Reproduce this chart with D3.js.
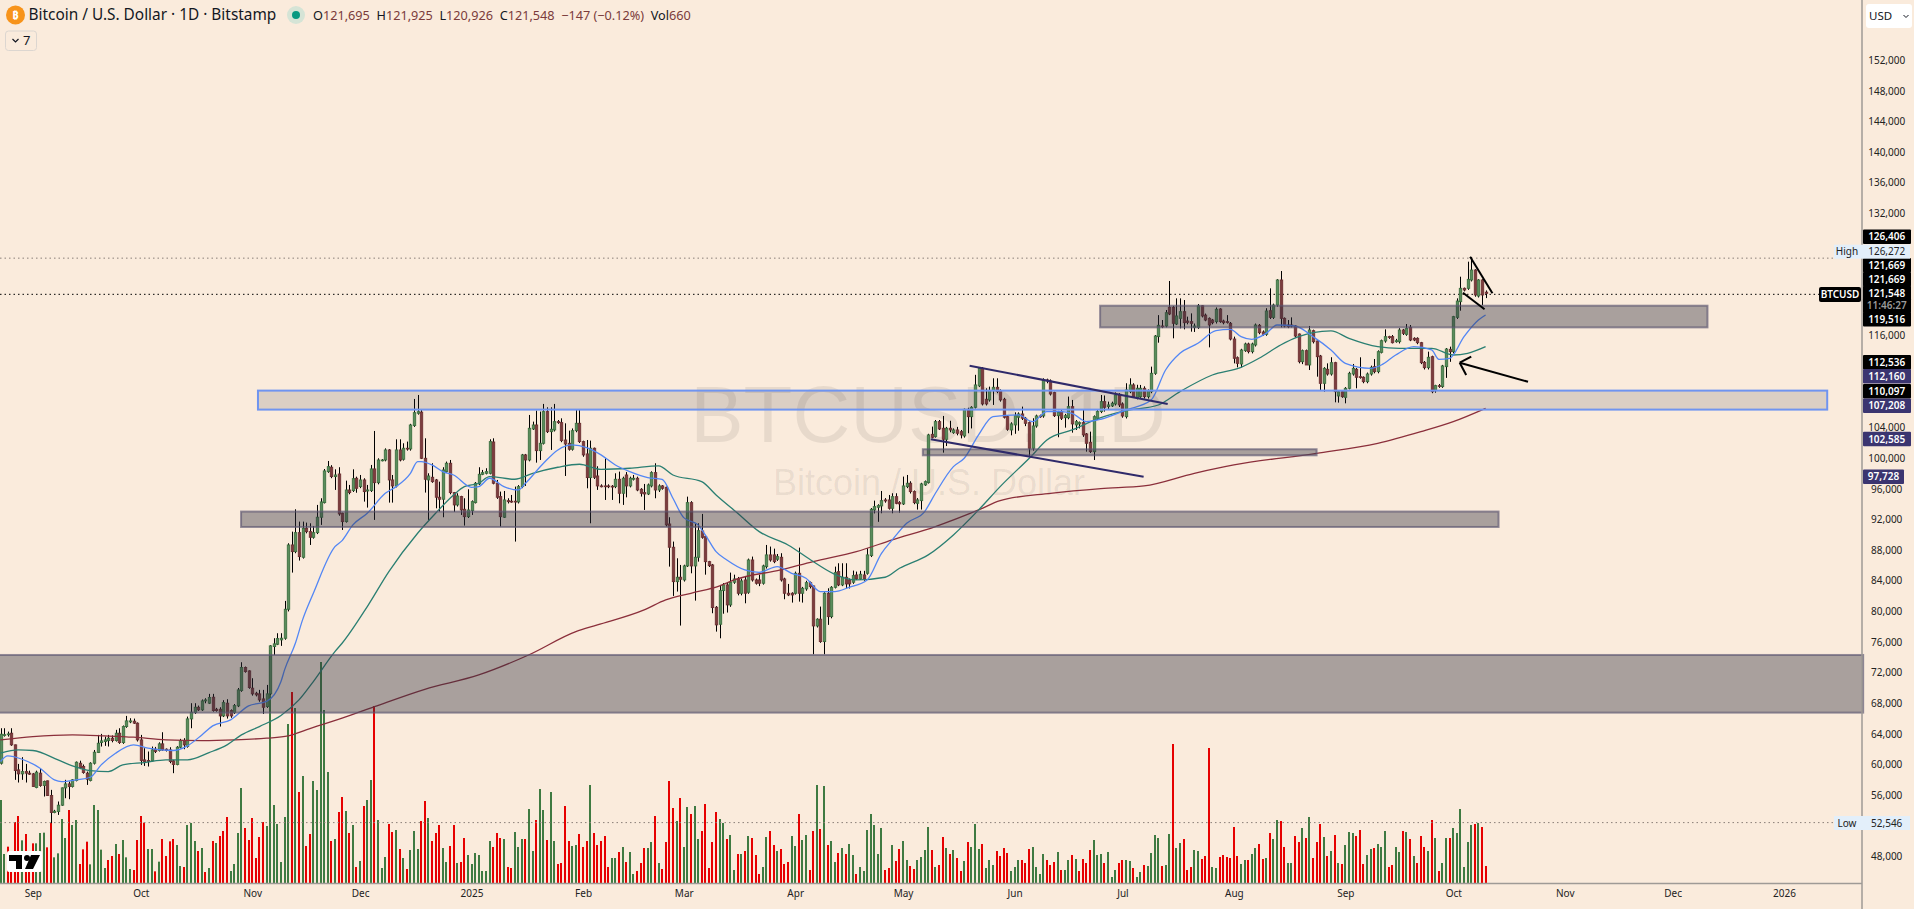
<!DOCTYPE html>
<html>
<head>
<meta charset="utf-8">
<script src="https://cdn.jsdelivr.net/npm/d3@7"></script>
<style>
  html, body { margin: 0; padding: 0; background: #faebdc; overflow: hidden; }
  text { font-family: "Noto Sans", sans-serif; }
</style>
</head>
<body>
<svg id="chart" width="1914" height="909"></svg>
<script>
// daily bars, first one is 23 Aug 2024, all prices in thousands of USD
const firstDay = "2024-08-23"
const lastDay = "2025-10-10"

const opens = [
  60.17,63.85,64.0,64.09,62.57,59.3,58.78,59.08,58.87,58.78,
  57.0,58.87,57.26,57.87,55.95,53.73,53.86,54.69,56.95,57.47,
  57.13,57.91,60.17,59.74,58.87,57.91,60.17,61.57,62.87,63.0,
  63.13,63.44,63.13,64.09,62.87,64.96,65.57,65.66,65.4,63.22,
  60.61,60.52,60.48,62.0,61.83,62.7,62.0,61.91,60.48,60.0,
  62.26,63.09,62.35,65.96,66.79,67.48,67.14,68.31,68.01,68.79,
  67.22,67.22,66.35,68.01,67.05,66.79,67.66,69.66,72.67,72.23,
  69.97,69.31,69.23,68.57,67.57,69.23,75.41,75.71,76.28,76.49,
  80.28,88.68,87.81,90.29,87.07,90.86,90.42,89.68,90.29,92.3,
  94.21,98.26,98.83,97.61,97.95,92.82,91.73,95.86,95.78,97.39,
  96.3,97.17,95.73,95.78,98.61,96.82,99.7,99.78,101.09,97.17,
  96.39,101.09,99.87,101.31,101.22,104.27,105.88,106.03,100.0,97.17,
  97.52,97.17,94.91,94.65,98.26,99.35,95.52,93.91,95.0,93.34,
  92.38,93.17,94.21,96.65,97.91,98.04,98.04,102.13,96.74,95.0,
  92.3,94.47,94.39,94.39,94.3,96.3,100.44,99.78,103.83,104.35,
  101.0,101.96,106.1,103.48,103.7,104.79,104.66,102.39,101.96,101.18,
  103.61,104.57,102.18,100.57,97.48,101.31,97.69,96.39,96.39,96.39,
  96.35,96.3,97.26,95.43,97.82,96.39,97.26,97.39,95.95,95.52,
  95.34,96.39,98.13,95.86,96.39,96.21,91.42,88.38,83.89,84.46,
  84.11,85.94,94.21,85.94,87.07,90.51,89.77,86.5,86.07,80.54,
  78.32,82.72,83.46,80.85,83.81,84.24,82.37,84.11,82.5,86.72,
  84.11,84.11,83.68,85.85,87.38,87.38,86.81,87.07,84.24,82.37,
  82.37,82.37,84.98,82.37,82.94,83.76,83.33,78.1,78.98,76.06,
  82.37,79.32,83.15,85.2,83.46,84.46,84.11,83.81,84.76,84.24,
  84.76,84.98,87.29,93.25,93.6,93.78,94.56,94.56,93.47,94.99,
  94.21,94.04,96.3,96.74,95.65,94.12,94.47,96.52,96.82,103.13,
  102.83,104.79,103.92,102.48,103.92,103.35,103.7,103.48,102.92,106.4,
  105.44,106.66,109.45,111.76,107.71,107.62,108.84,109.27,108.84,107.71,
  105.44,103.7,104.36,105.36,105.79,105.23,104.66,101.31,104.22,105.53,
  105.53,110.23,110.1,108.58,105.57,106.1,105.31,105.31,106.75,104.36,
  104.49,104.66,103.18,102.09,100.87,105.23,106.1,107.4,106.75,106.84,
  107.1,108.27,107.1,105.44,108.71,109.58,107.84,108.05,109.14,108.05,
  108.7,111.1,115.89,117.28,117.28,119.72,119.72,117.54,118.28,119.15,
  117.93,117.85,117.1,117.1,119.93,118.7,118.28,118.06,117.85,119.5,
  117.93,117.85,117.63,115.58,113.14,112.32,114.06,114.93,113.93,114.8,
  117.37,116.5,116.19,119.28,118.41,120.02,123.29,118.28,117.41,117.41,
  117.28,116.23,112.62,114.06,112.19,116.67,115.32,113.36,109.79,111.62,
  111.01,112.49,108.14,108.7,107.96,109.14,111.01,111.62,110.66,110.58,
  110.01,111.01,111.97,111.32,113.84,115.32,115.89,115.89,115.23,115.23,
  116.76,116.19,117.1,115.67,115.67,115.1,112.53,111.84,113.27,108.83,
  109.49,109.36,111.97,114.23,113.93,118.41,120.46,122.2,122.2,123.29,
  124.59,121.2,123.29,121.695
]
const highs = [
  64.74,64.74,64.3,64.74,62.6,60.08,60.96,60.08,59.2,58.9,
  59.2,59.5,57.9,57.9,56.69,54.08,55.17,57.0,58.0,57.78,
  58.1,60.4,60.5,60.0,59.08,60.3,61.9,63.87,64.0,63.65,
  63.87,63.8,64.53,64.74,65.1,66.35,66.05,66.0,65.5,63.87,
  62.13,61.7,62.35,62.3,62.9,64.22,62.1,62.26,60.6,62.4,
  63.35,63.44,66.26,68.01,68.01,67.7,68.5,68.66,69.23,69.23,
  67.4,67.48,68.4,68.53,67.2,67.9,70.0,73.36,72.8,72.3,
  71.27,69.5,69.75,69.75,70.4,75.6,76.5,77.15,77.15,81.37,
  88.9,90.42,93.34,91.73,91.73,91.6,91.51,91.16,93.91,94.78,
  98.6,99.65,99.1,98.56,98.83,92.9,97.08,96.52,98.56,97.6,
  97.82,97.39,96.52,99.13,103.57,100.0,99.9,101.3,101.2,97.82,
  102.48,102.48,101.96,102.18,104.5,107.75,108.27,106.3,102.61,98.04,
  99.35,97.3,96.95,98.83,99.57,99.78,95.6,95.43,95.1,94.78,
  95.95,94.5,96.9,98.83,98.48,98.7,102.48,102.61,97.17,95.65,
  95.73,94.78,95.21,96.3,96.5,100.57,100.57,105.66,104.79,106.23,
  106.1,107.1,106.66,106.66,107.1,105.0,105.22,104.57,103.61,103.9,
  106.31,106.31,102.3,102.39,102.31,101.4,98.96,96.6,100.0,96.6,
  96.5,98.04,98.26,97.6,98.2,97.6,97.82,97.6,96.1,96.65,
  96.7,98.3,99.35,96.6,96.5,96.3,92.3,89.12,86.94,86.07,
  86.1,94.99,94.4,91.51,91.51,92.73,89.9,86.6,86.2,80.7,
  83.46,83.7,83.7,85.07,84.8,84.5,84.3,84.63,86.9,87.16,
  84.3,84.8,86.1,88.68,88.47,88.2,87.5,87.6,84.4,83.59,
  82.5,85.2,88.33,83.2,84.0,83.9,83.4,79.1,80.63,82.5,
  83.02,83.3,85.85,86.29,86.29,86.29,84.3,85.33,85.2,85.3,
  85.3,88.25,93.5,94.47,94.0,95.73,94.8,95.21,95.43,95.43,
  94.4,97.61,97.82,97.0,95.8,94.8,96.8,97.1,103.2,104.14,
  105.0,105.0,105.53,104.1,104.9,103.9,104.1,103.7,106.5,106.6,
  106.8,110.9,111.9,111.9,109.14,109.36,110.45,110.45,109.0,107.9,
  105.6,104.7,106.0,106.0,106.75,105.4,104.8,105.23,105.7,105.7,
  110.45,110.4,110.3,108.7,106.2,106.3,105.8,108.06,107.62,105.0,
  104.8,106.4,103.3,103.48,105.6,106.3,108.27,108.2,107.4,107.4,
  108.6,108.5,107.3,109.8,110.45,109.8,109.6,109.58,109.4,109.0,
  111.97,116.1,118.7,118.06,119.37,123.16,119.9,120.89,120.89,120.67,
  118.5,118.93,117.6,120.15,120.02,118.9,118.4,118.2,119.7,119.6,
  118.1,118.7,117.8,115.89,113.3,114.3,115.1,115.1,115.1,117.6,
  117.54,116.7,119.6,122.2,120.2,123.4,124.46,118.4,118.06,118.41,
  117.4,116.3,114.2,114.2,117.28,116.8,115.4,113.5,111.9,112.4,
  113.2,112.6,108.9,108.9,109.3,111.3,112.32,111.8,113.19,110.7,
  111.2,112.1,112.97,114.1,115.5,116.84,116.0,116.1,115.6,117.0,
  116.9,117.54,117.41,115.8,115.8,115.2,112.7,113.93,113.4,109.6,
  109.7,112.2,114.4,114.58,118.6,120.89,123.72,122.3,125.68,126.27,
  124.7,123.4,123.4,121.925
]
const lows = [
  60.0,63.65,63.65,62.44,58.0,57.65,58.0,57.65,58.65,57.1,
  56.9,57.1,55.82,55.9,52.34,53.64,53.42,54.6,55.6,55.47,
  57.0,57.8,59.4,58.8,57.34,57.8,60.0,61.5,62.35,62.44,
  62.35,62.9,63.0,62.7,62.7,64.8,65.4,65.3,63.0,59.95,
  59.82,59.74,60.4,61.5,61.7,61.8,61.7,60.17,58.87,59.9,
  62.1,62.0,62.2,64.74,66.6,67.0,67.0,68.0,67.9,66.9,
  66.9,64.96,66.2,66.0,66.1,66.6,67.5,69.5,72.0,69.9,
  69.0,68.9,68.2,66.61,67.4,69.1,74.3,75.6,75.5,76.3,
  80.0,85.07,87.6,86.64,86.9,90.2,88.68,89.5,90.1,91.3,
  94.1,98.1,97.4,95.87,92.5,90.64,91.6,95.3,95.6,95.5,
  96.1,94.34,93.56,95.6,91.95,96.6,99.6,99.6,94.21,94.21,
  96.2,99.6,99.7,101.0,101.0,104.1,105.7,99.9,95.52,91.95,
  96.8,93.47,93.04,92.3,98.1,95.3,93.0,93.7,92.6,91.21,
  92.2,92.6,94.1,96.5,97.8,97.9,97.9,96.6,94.7,91.08,
  92.2,94.1,94.2,89.12,94.1,96.1,96.39,99.6,103.7,99.43,
  99.78,101.8,103.3,101.09,103.5,104.5,102.1,97.69,101.0,101.0,
  103.4,102.0,100.2,96.08,91.51,97.3,95.87,96.2,94.56,96.1,
  94.56,96.1,94.12,93.91,94.9,96.2,97.1,95.7,95.0,93.25,
  95.2,96.2,94.78,95.6,95.9,91.1,85.85,82.02,82.59,78.15,
  83.9,85.8,84.98,81.41,86.5,89.5,84.8,85.8,79.76,77.36,
  76.49,79.7,79.85,80.6,83.6,82.1,82.1,81.06,82.3,83.9,
  83.5,83.3,83.5,85.6,86.5,86.3,86.6,83.9,81.59,82.0,
  81.15,82.2,81.28,81.15,82.7,83.0,74.4,77.9,75.9,74.4,
  78.24,79.1,83.0,83.3,83.3,83.02,83.0,83.6,84.1,84.1,
  84.0,84.8,87.1,92.8,91.7,92.82,94.2,93.3,92.82,94.0,
  92.9,93.9,96.1,95.4,94.0,93.3,93.3,96.4,96.7,102.6,
  102.7,103.7,100.74,101.6,103.4,103.2,103.0,102.6,102.7,103.27,
  103.9,106.5,109.3,106.9,106.9,107.4,106.97,108.5,107.4,105.2,
  103.6,103.0,103.2,103.6,105.0,104.2,100.22,101.0,104.0,105.3,
  105.3,109.8,108.2,105.4,102.75,105.0,104.0,105.1,103.35,103.7,
  103.9,102.8,100.87,100.7,99.78,105.0,105.9,106.1,106.4,106.7,
  106.9,106.7,105.3,105.2,108.5,107.9,107.7,107.9,107.8,107.8,
  108.5,110.9,115.1,117.0,117.1,118.7,115.67,117.4,116.97,116.84,
  117.5,116.54,116.5,116.9,118.4,117.9,114.49,117.5,117.6,117.7,
  117.5,117.6,115.4,112.4,111.88,111.88,113.9,113.7,113.7,114.6,
  116.2,116.0,116.0,118.2,118.2,119.8,117.1,117.1,117.0,117.1,
  115.8,112.4,112.3,112.19,111.53,115.0,110.66,108.83,108.7,110.8,
  110.8,107.31,107.27,107.9,107.18,109.0,110.8,109.14,110.4,109.8,
  109.8,110.8,111.1,111.1,113.7,115.1,115.6,115.0,115.1,115.0,
  116.1,116.0,115.3,115.3,114.9,112.3,111.6,111.6,108.5,108.57,
  109.2,109.2,110.5,112.6,113.7,118.2,119.28,121.8,122.0,123.1,
  121.1,121.0,120.0,120.926
]
const closes = [
  63.96,63.9,64.0,62.57,59.21,58.78,59.08,58.87,58.74,57.13,
  59.0,57.26,57.78,55.95,53.73,53.9,54.69,56.95,57.47,57.13,
  58.0,60.3,59.6,58.95,58.08,60.17,61.61,62.78,63.09,63.22,
  63.44,63.13,64.09,62.87,64.96,65.7,65.7,65.4,63.22,60.52,
  60.39,60.39,61.91,61.7,62.7,61.91,61.83,60.39,60.0,62.26,
  63.09,62.57,65.96,66.83,67.48,67.14,68.31,68.44,68.75,67.05,
  67.05,66.35,68.09,66.35,66.35,67.7,69.75,72.67,72.14,70.05,
  69.23,69.1,68.44,67.48,69.23,75.5,75.76,76.45,76.5,80.28,
  88.68,87.81,90.29,87.16,90.86,90.42,89.68,90.29,92.3,94.3,
  98.35,98.91,97.61,97.82,92.73,91.73,95.86,95.52,97.34,96.08,
  97.17,95.65,95.86,98.61,96.82,99.78,99.78,101.09,97.17,96.39,
  101.09,99.78,101.31,101.22,104.35,105.96,106.09,100.0,97.26,97.69,
  96.95,94.91,94.65,98.48,99.35,95.52,93.91,95.08,93.25,92.38,
  93.25,94.34,96.74,97.91,98.13,98.26,102.18,96.74,94.91,92.38,
  94.56,94.34,94.3,94.3,96.3,100.44,99.78,103.92,104.35,101.0,
  101.96,106.1,103.48,103.79,104.79,104.66,102.31,101.87,101.18,103.61,
  104.57,102.18,100.44,97.48,101.31,97.52,96.39,96.3,96.3,96.3,
  96.26,97.26,95.43,97.39,96.39,97.39,97.39,95.86,95.43,95.34,
  96.52,98.13,95.86,96.39,96.08,91.3,88.38,83.89,84.46,84.2,
  85.94,94.21,85.94,87.07,90.55,89.68,86.5,85.98,80.5,78.24,
  82.72,83.46,80.85,83.81,84.24,82.37,83.98,82.37,86.72,84.11,
  83.68,83.68,85.94,87.38,86.72,86.5,87.16,84.11,82.37,82.15,
  82.15,84.98,82.37,83.02,83.76,83.24,78.1,78.98,76.06,82.37,
  79.32,83.15,85.07,83.46,84.46,83.59,83.59,84.68,84.24,84.85,
  84.24,87.38,93.34,93.69,93.82,94.47,94.43,93.47,94.99,94.12,
  94.04,96.39,96.74,95.65,94.21,94.56,96.65,96.95,103.05,102.74,
  104.79,103.83,102.48,103.92,103.7,103.7,103.27,103.05,106.4,105.44,
  106.66,109.58,111.76,107.1,107.1,108.84,109.27,108.71,107.62,105.36,
  103.79,104.49,105.57,105.79,105.23,104.57,101.31,104.22,105.53,105.44,
  110.23,110.1,108.4,105.57,106.01,105.23,105.57,106.75,104.49,104.79,
  104.66,103.05,101.96,100.87,105.44,106.1,107.4,106.66,106.97,107.19,
  108.27,106.97,105.53,108.93,109.58,108.06,109.14,109.14,108.05,108.83,
  111.1,115.97,117.37,117.19,119.02,118.85,117.63,118.59,119.15,117.71,
  117.76,117.63,117.28,119.93,118.59,118.06,117.41,117.71,119.46,117.85,
  117.71,117.76,115.58,113.06,112.4,114.14,114.93,113.93,114.93,117.41,
  116.41,116.19,119.24,118.41,120.02,123.29,118.28,117.28,117.19,117.28,
  115.97,112.62,114.06,112.19,116.76,115.23,113.27,109.79,111.75,111.01,
  112.49,108.7,108.7,108.05,109.14,111.1,111.75,110.58,110.58,110.01,
  111.01,111.88,111.32,113.93,115.36,115.89,115.8,115.1,115.36,116.76,
  116.32,116.97,115.45,115.45,115.1,112.49,111.84,113.19,108.7,109.49,
  109.45,112.06,114.27,113.93,118.5,120.54,122.2,121.98,123.37,124.59,
  121.33,123.29,121.33,121.548
]

// volume bars, unit is roughly 13 BTC
const volumes = [
  249,87,109,50,183,201,128,147,80,119,
  119,150,151,107,181,77,89,192,135,219,
  174,189,57,101,124,56,234,219,100,45,
  69,81,117,87,129,77,42,39,129,201,
  181,102,102,35,64,132,81,125,132,114,
  51,48,174,180,126,96,105,33,45,126,
  120,141,156,198,36,57,150,285,165,129,
  195,75,138,183,171,699,234,177,63,198,
  477,573,525,273,321,111,147,306,279,663,
  519,333,126,132,213,258,216,150,174,48,
  66,231,249,309,531,189,45,78,177,153,
  159,102,75,42,99,156,102,186,246,195,
  126,150,174,105,63,111,174,60,63,135,
  84,57,90,84,36,36,126,108,150,135,
  132,48,45,153,108,132,132,222,96,189,
  282,219,129,273,126,57,60,231,126,111,
  114,147,108,126,294,150,114,126,141,48,
  75,75,93,108,63,93,27,36,60,105,
  105,123,201,60,42,123,306,225,186,255,
  108,228,207,231,132,156,237,45,123,213,
  192,180,132,144,39,87,87,96,141,135,
  84,27,48,138,156,114,96,102,57,63,
  141,111,207,129,144,39,156,294,162,291,
  114,126,63,90,105,87,117,84,27,48,
  36,159,207,174,87,165,39,45,114,66,
  102,126,69,51,42,69,78,99,168,99,
  48,54,138,105,87,99,75,36,66,123,
  108,177,102,117,45,69,54,96,81,105,
  90,36,48,69,69,60,102,108,48,27,
  87,69,54,63,93,39,39,69,84,72,
  36,72,60,99,129,84,87,60,93,18,
  39,60,69,69,66,45,18,33,54,51,
  90,144,135,51,54,147,417,105,120,132,
  39,48,99,96,72,81,405,48,45,78,
  84,78,75,168,81,57,69,69,87,105,
  117,72,75,150,132,189,186,108,60,60,
  141,123,165,135,198,75,123,177,138,81,
  96,144,60,57,114,153,150,141,159,57,
  84,102,105,117,108,156,48,54,108,93,
  156,153,132,81,60,141,108,96,189,135,
  36,60,135,135,165,150,222,48,123,174,
  177,180,168,51
]
const volumeSides = [
  "GGRRRRGRRR","GGGRRGGGGR","GGRRRGGGGG","RRGRGGGRRR","RGGRGRRRRG",
  "GRGGGRGRGR","GRRRGGGGRR","RRRRGGGGGG","GRGRGRRGGG","GGRGRRGRGR",
  "GRGGRGGGRR","GRGRGGGRRG","RRRGGRRGRR","GGGGGGGRRR","GRRGGGRGGR",
  "GGRGGRRRRG","GRRRGRRRRR","GGRGRGGRRR","GGRGRRRRGR","GGRGGRRRRR",
  "GGRGGRGRGR","RRGGRRGRRR","GGRGGRRGRG","RGGRGRGGRG","GGGGGGRRGR",
  "RGGRRGGGGR","GRRGRGRRGR","GGGRGGGRRR","RGGGRRRGGG","GRRRGRGGRG",
  "RRRRGGGRGG","GRRGGRGGRG","GGGRGGRGGR","RRGGRRRGGR","RRRRRGGRGG",
  "RRGRGGRRGG","RRGRGRRRGR","GRGRGGGRRR","GGRGGGRRGG","RGRGRRRGRG",
  "RGGRGGGGGG","RGRR"
].join("")

// moving averages at these bar numbers
const fastMaBars = [0,2,6,11,15,17,21,25,28,32,37,41,48,52,56,59,64,69,74,78,79,82,84,87,93,95,98,102,107,110,114,116,117,120,123,126,131,133,136,140,144,146,151,155,159,163,167,171,175,180,184,187,190,194,196,199,202,207,211,216,220,224,228,232,236,241,245,248,252,257,260,265,268,272,276,283,287,291,295,298,302,306,313,320,324,328,333,338,342,345,348,352,355,360,365,370,374,381,384,388,393,398,400,403,407,411,413]
const fastMaValues = [60.39,61.13,60.69,59.52,58.0,57.78,58.0,58.34,59.95,61.48,62.57,62.13,61.83,62.44,63.87,65.05,65.83,67.66,68.24,70.84,72.36,75.84,78.89,82.37,88.46,89.25,91.3,92.82,95.43,96.3,98.04,99.57,99.57,99.13,98.26,97.82,96.21,96.3,97.39,96.3,95.86,96.74,99.35,101.09,101.74,101.39,100.44,99.13,98.26,97.48,97.26,94.78,92.25,91.3,90.0,87.81,86.72,85.42,85.11,85.85,84.98,84.33,82.59,82.59,83.15,84.11,87.59,89.34,91.51,93.04,95.43,98.91,100.0,103.05,105.44,105.66,104.79,106.1,106.1,105.88,104.79,105.1,106.31,107.62,111.53,113.71,115.02,116.67,116.84,115.89,115.54,116.32,117.41,117.28,115.89,114.15,112.4,111.75,112.19,113.49,114.58,114.15,112.93,113.06,115.89,118.06,118.72]
const midMaBars = [0,5,9,16,20,25,30,34,40,46,52,58,63,67,72,78,83,87,93,95,102,108,116,121,126,129,133,136,143,148,155,161,167,175,183,187,195,199,205,211,219,226,232,238,246,250,258,265,272,278,287,291,298,306,313,322,328,337,345,350,356,361,365,370,375,383,389,398,404,408,413]
const midMaValues = [61.48,61.91,61.83,60.61,59.82,59.2,59.08,59.95,60.26,60.61,60.61,61.56,62.57,63.87,64.96,66.4,68.44,70.84,74.75,75.84,80.63,85.2,90.21,92.82,95.21,96.3,96.74,97.61,97.26,98.04,98.83,99.22,98.56,98.7,99.0,97.82,96.95,95.21,92.82,90.42,88.68,86.51,84.85,84.11,84.46,85.63,87.38,89.99,93.25,96.3,100.44,102.39,103.7,105.3,106.22,106.96,108.7,110.88,111.88,113.06,114.8,115.89,116.41,116.63,115.67,114.58,114.36,114.36,113.49,113.71,114.58]
const slowMaBars = [0,9,20,29,37,46,56,65,74,80,85,95,104,118,133,147,160,166,179,185,192,200,204,217,226,238,248,260,272,278,292,306,318,332,343,366,383,395,404,413]
const slowMaValues = [63.22,63.65,63.87,63.74,63.57,63.22,63.13,63.22,63.44,63.74,64.53,66.05,67.56,69.83,71.7,74.34,77.36,78.23,80.2,81.5,82.37,83.33,84.11,85.42,86.51,87.81,89.34,91.08,93.25,94.47,95.43,96.05,96.39,98.04,99.13,100.65,101.96,103.48,104.79,106.53]

// price axis, the round numbers hidden behind tags in the picture are left out
const priceTicks = [152,148,144,140,136,132,116,104,100,96,92,88,84,80,76,72,68,64,60,56,48]
const monthTicks = ["2024-09-01","2024-10-01","2024-11-01","2024-12-01","2025-01-01","2025-02-01","2025-03-01","2025-04-01","2025-05-01","2025-06-01","2025-07-01","2025-08-01","2025-09-01","2025-10-01","2025-11-01","2025-12-01","2026-01-01"]

// horizontal zones: first bar, last bar, top price, bottom price
const grayZones = [
  [-2, 518, 74.31, 66.78],
  [66.9, 416.6, 93.04, 91.03],
  [256.5, 366, 101.18, 100.39],
  [305.8, 474.7, 119.93, 117.1]
]
const blueZone = [71.6, 508, 108.84, 106.36]

// drawn lines: bar, price, bar, price
const navyLines = [
  [269.5, 112.1, 324.6, 107.1],
  [258.7, 102.48, 317.9, 97.6]
]
const blackLines = [
  [408.7, 126.33, 414.9, 121.55],
  [406.7, 121.63, 412.7, 119.46],
  [424.8, 110.0, 405.8, 112.49],
  [405.8, 112.49, 409, 113.27],
  [405.8, 112.49, 407.6, 110.88]
]

// labels on the price axis, they get pushed apart there so each has its own row
const priceTags = [
  ["126,406", "#000", "#fff", 236.7],
  ["121,669", "#000", "#fff", 265.3],
  ["121,669", "#000", "#fff", 279.3],
  ["121,548", "#000", "#fff", 293],
  ["11:46:27", "#000", "#9a9a9a", 305.7],
  ["119,516", "#000", "#fff", 319.3],
  ["112,536", "#000", "#fff", 362.3],
  ["112,160", "#3b3570", "#fff", 376.3],
  ["110,097", "#000", "#fff", 391.3],
  ["107,208", "#3b3570", "#fff", 405.7],
  ["102,585", "#3b3570", "#fff", 439],
  ["97,728", "#3b3570", "#fff", 476.7]
]

const highPrice = 126.272
const lastPrice = 121.548
const lowPrice = 52.546

const svg = d3.select("#chart")
const plotRight = 1862
const volumeBase = 883

const startDate = new Date(firstDay + "T00:00:00Z")
const x = d3.scaleUtc()
  .domain([startDate, new Date(lastDay + "T00:00:00Z")])
  .range([0.5, 1485.6])
const barX = i => x(new Date(+startDate + i * 864e5))
const y = d3.scaleLinear().domain([132, 48]).range([213.3, 856.4])
const yVol = d3.scaleLinear().domain([0, 900]).range([volumeBase, volumeBase - 300])

// watermark
const mark = svg.append("g").attr("fill", "#000").attr("fill-opacity", 0.075)
  .style("text-anchor", "middle")
mark.append("text").attr("x", 928).attr("y", 441.7)
  .style("font-family", "'Liberation Sans'").style("font-size", "80px").text("BTCUSD, 1D")
mark.append("text").attr("x", 929).attr("y", 495)
  .style("font-family", "'Liberation Sans'").style("font-size", "36px").text("Bitcoin / U.S. Dollar")

// volume
svg.append("g").selectAll("rect").data(volumes).enter().append("rect")
  .attr("x", (d, i) => Math.round(barX(i)) - 1)
  .attr("width", 2)
  .attr("y", d => yVol(d))
  .attr("height", d => volumeBase - yVol(d))
  .attr("fill", (d, i) => volumeSides[i] === "G" ? "#3f7a42" : "#e60000")

// price lines, High / last / Low
const dotted = [[highPrice, 1834, "#8a7f78"], [lastPrice, 1819, "#000"], [lowPrice, 1834, "#8a7f78"]]
svg.append("g").selectAll("line").data(dotted).enter().append("line")
  .attr("x1", 0).attr("x2", d => d[1])
  .attr("y1", d => y(d[0]) + 1).attr("y2", d => y(d[0]) + 1)
  .attr("stroke", d => d[2]).attr("stroke-dasharray", "1.5 3")

// candles
const candles = svg.append("g")
candles.selectAll(".wick").data(closes).enter().append("line")
  .attr("class", "wick")
  .attr("x1", (d, i) => Math.round(barX(i)) + 0.5)
  .attr("x2", (d, i) => Math.round(barX(i)) + 0.5)
  .attr("y1", (d, i) => y(highs[i]))
  .attr("y2", (d, i) => y(lows[i]))
  .attr("stroke", "#000").attr("stroke-width", 1)
candles.selectAll(".body").data(closes).enter().append("rect")
  .attr("class", "body")
  .attr("x", (d, i) => Math.round(barX(i)) - 0.7)
  .attr("width", 2.4)
  .attr("y", (d, i) => y(Math.max(d, opens[i])))
  .attr("height", (d, i) => Math.max(0.8, Math.abs(y(d) - y(opens[i]))))
  .attr("fill", (d, i) => d >= opens[i] ? "#5a8d5c" : "#7c3d3e")
  .attr("stroke", (d, i) => d >= opens[i] ? "#3d7040" : "#6d3033")
  .attr("stroke-width", 0.9)

// moving averages
const maLine = d3.line().x(d => barX(d[0])).y(d => y(d[1])).curve(d3.curveMonotoneX)
const maSets = [
  [d3.zip(slowMaBars, slowMaValues), "#8b2f3b"],
  [d3.zip(midMaBars, midMaValues), "#2a7f72"],
  [d3.zip(fastMaBars, fastMaValues), "#5286f5"]
]
svg.append("g").selectAll("path").data(maSets).enter().append("path")
  .attr("d", d => maLine(d[0]))
  .attr("fill", "none").attr("stroke", d => d[1]).attr("stroke-width", 1.3)

// zones
svg.append("g").selectAll("rect").data(grayZones).enter().append("rect")
  .attr("x", d => barX(d[0])).attr("width", d => barX(d[1]) - barX(d[0]))
  .attr("y", d => y(d[2])).attr("height", d => y(d[3]) - y(d[2]))
  .attr("fill", "#2f2f3e").attr("fill-opacity", 0.4)
  .attr("stroke", "#5a5470").attr("stroke-opacity", 0.65).attr("stroke-width", 2)
svg.append("rect").datum(blueZone)
  .attr("x", d => barX(d[0])).attr("width", d => barX(d[1]) - barX(d[0]))
  .attr("y", d => y(d[2])).attr("height", d => y(d[3]) - y(d[2]))
  .attr("fill", "#2f2f3e").attr("fill-opacity", 0.15)
  .attr("stroke", "#6f94f0").attr("stroke-width", 2)

// trend lines and the arrow
const drawnLines = (rows, colour, width) => svg.append("g").selectAll("line").data(rows).enter().append("line")
  .attr("x1", d => barX(d[0])).attr("y1", d => y(d[1]))
  .attr("x2", d => barX(d[2])).attr("y2", d => y(d[3]))
  .attr("stroke", colour).attr("stroke-width", width)
drawnLines(navyLines, "#2f2a6a", 2)
drawnLines(blackLines, "#000", 2)

// axes
svg.append("line").attr("x1", 0).attr("x2", plotRight)
  .attr("y1", volumeBase + 0.5).attr("y2", volumeBase + 0.5)
  .attr("stroke", "#9e9a96").attr("stroke-width", 1.5)
svg.append("line").attr("x1", plotRight).attr("x2", plotRight)
  .attr("y1", 0).attr("y2", 909)
  .attr("stroke", "#9e9a96").attr("stroke-width", 1.5)

const timeAxis = d3.axisBottom(x)
  .tickValues(monthTicks.map(d => new Date(d + "T00:00:00Z")))
  .tickSize(0)
  .tickFormat(d => d.getUTCMonth() === 0 ? d.getUTCFullYear() : d3.utcFormat("%b")(d))
const gt = svg.append("g").attr("transform", "translate(0,890)").call(timeAxis)
gt.select(".domain").remove()
gt.selectAll("text").attr("y", 0).attr("dy", "0.71em").attr("fill", "#222")
  .style("font-size", "10px").style("font-family", "'Noto Sans'")

const priceAxis = d3.axisRight(y).tickValues(priceTicks).tickSize(0)
  .tickFormat(d => d3.format(",")(d * 1000))
const gp = svg.append("g").attr("transform", "translate(" + plotRight + ",0)").call(priceAxis)
gp.select(".domain").remove()
gp.selectAll("text").attr("x", 24.7).attr("fill", "#222")
  .style("text-anchor", "middle").style("font-size", "10px").style("font-family", "'Noto Sans'")

// tags on the axis
const tag = svg.append("g").style("font-family", "'Noto Sans'").style("font-size", "10px")
const tagRows = tag.selectAll("g").data(priceTags).enter().append("g")
tagRows.append("rect")
  .attr("x", plotRight + 1).attr("width", d => d[0].length < 7 ? 41 : 48)
  .attr("y", d => d[3] - 7.3).attr("height", 14.6).attr("rx", 1)
  .attr("fill", d => d[1])
tagRows.append("text")
  .attr("x", d => d[0].length < 7 ? plotRight + 21.5 : plotRight + 24.7)
  .attr("y", d => d[3]).attr("dy", "0.35em")
  .style("text-anchor", "middle").style("font-weight", 600)
  .attr("fill", d => d[2]).text(d => d[0])

const rangeTags = [["High", "126,272", 251.7], ["Low", "52,546", 823]]
rangeTags.forEach(d => {
  tag.append("rect").attr("x", 1834).attr("width", 76).attr("y", d[2] - 7).attr("height", 14).attr("fill", "#e3effa")
  tag.append("text").attr("x", 1847).attr("y", d[2]).attr("dy", "0.35em")
    .style("text-anchor", "middle").attr("fill", "#222").text(d[0])
  tag.append("text").attr("x", 1886.7).attr("y", d[2]).attr("dy", "0.35em")
    .style("text-anchor", "middle").attr("fill", "#222").text(d[1])
})
tag.append("rect").attr("x", 1819).attr("width", 42).attr("y", 287).attr("height", 15).attr("rx", 2).attr("fill", "#000")
tag.append("text").attr("x", 1840).attr("y", 294.5).attr("dy", "0.35em")
  .style("text-anchor", "middle").style("font-weight", 600).attr("fill", "#fff").text("BTCUSD")

// currency button
svg.append("rect").attr("x", 1866).attr("y", 4).attr("width", 46).attr("height", 24).attr("rx", 3).attr("fill", "#fff")
svg.append("text").attr("x", 1869).attr("y", 20).style("font-size", "11.5px").attr("fill", "#131722").text("USD")
svg.append("path").attr("d", "M1903.5 15l2.5 2.5l2.5-2.5").attr("fill", "none").attr("stroke", "#131722").attr("stroke-width", 1)

// header
const header = svg.append("g")
header.append("circle").attr("cx", 15.5).attr("cy", 15).attr("r", 9.5).attr("fill", "#f7931a")
header.append("text").attr("x", 15.5).attr("y", 19).style("text-anchor", "middle")
  .style("font-size", "11px").style("font-weight", 700).attr("fill", "#fff").text("₿")
header.append("text").attr("x", 28.5).attr("y", 20).style("font-size", "15.4px").attr("fill", "#131722")
  .text("Bitcoin / U.S. Dollar · 1D · Bitstamp")
header.append("circle").attr("cx", 296).attr("cy", 15).attr("r", 9).attr("fill", "#d5e4d6")
header.append("circle").attr("cx", 296).attr("cy", 15).attr("r", 4).attr("fill", "#089981")

const ohlcText = [["O", "121,695"], ["H", "121,925"], ["L", "120,926"], ["C", "121,548"]]
const ohlc = header.append("text").attr("x", 313).attr("y", 20).style("font-size", "12.7px").attr("xml:space", "preserve").style("white-space", "pre")
ohlcText.forEach(d => {
  ohlc.append("tspan").attr("fill", "#131722").text(d[0])
  ohlc.append("tspan").attr("fill", "#7b3b3b").text(d[1] + "  ")
})
ohlc.append("tspan").attr("fill", "#7b3b3b").text("−147 (−0.12%)  ")
ohlc.append("tspan").attr("fill", "#131722").text("Vol")
ohlc.append("tspan").attr("fill", "#7b3b3b").text("660")

header.append("rect").attr("x", 5.5).attr("y", 31).attr("width", 31).attr("height", 19.5).attr("rx", 3)
  .attr("fill", "none").attr("stroke", "#dcd6d0")
header.append("path").attr("d", "M12.5 39l3 3l3-3").attr("fill", "none").attr("stroke", "#131722").attr("stroke-width", 1.2)
header.append("text").attr("x", 23).attr("y", 45).style("font-size", "13px").attr("fill", "#131722").text("7")

// TV logo bottom left
const logo = svg.append("g")
logo.append("rect").attr("x", 7).attr("y", 851).attr("width", 35).attr("height", 21).attr("rx", 2).attr("fill", "#fff")
logo.append("path").attr("d", "M9 855H22V869H16V861H9Z M31 855H40L33 869H25Z").attr("fill", "#000")
logo.append("circle").attr("cx", 27).attr("cy", 858).attr("r", 3).attr("fill", "#000")
</script>
</body>
</html>
